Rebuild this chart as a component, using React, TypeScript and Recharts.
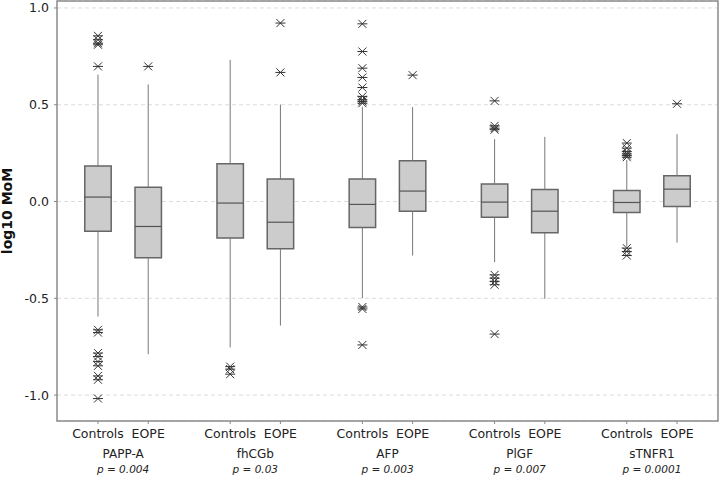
import React from 'react';
import {
  ComposedChart,
  XAxis,
  YAxis,
  CartesianGrid,
  ReferenceArea,
  ReferenceLine,
  Scatter,
  Label,
} from 'recharts';

const markers = ['PAPP-A', 'fhCGb', 'AFP', 'PlGF', 'sTNFR1'];
const pLabels = ['p = 0.004', 'p = 0.03', 'p = 0.003', 'p = 0.007', 'p = 0.0001'];
const groupLabels = ['Controls', 'EOPE'];
const yTicks = [-1, -0.5, 0, 0.5, 1];

// Controls: whisker low, Q1, median, Q3, whisker high
const controlsLow = [-0.594, -0.754, -0.5, -0.313, -0.233];
const controlsQ1 = [-0.153, -0.189, -0.134, -0.081, -0.057];
const controlsMedian = [0.023, -0.008, -0.015, -0.003, -0.005];
const controlsQ3 = [0.183, 0.195, 0.116, 0.09, 0.057];
const controlsHigh = [0.656, 0.732, 0.49, 0.322, 0.215];

// EOPE
const eopeLow = [-0.789, -0.641, -0.279, -0.503, -0.212];
const eopeQ1 = [-0.291, -0.244, -0.05, -0.162, -0.026];
const eopeMedian = [-0.129, -0.107, 0.054, -0.05, 0.064];
const eopeQ3 = [0.074, 0.116, 0.21, 0.062, 0.133];
const eopeHigh = [0.605, 0.501, 0.488, 0.334, 0.348];

const controlsOutliers = [
  [0.856, 0.836, 0.818, 0.81, 0.698, -0.663, -0.677, -0.783, -0.801, -0.827, -0.849, -0.901, -0.921, -1.018],
  [-0.853, -0.866, -0.892],
  [0.918, 0.775, 0.689, 0.641, 0.589, 0.543, 0.526, 0.517, 0.508, -0.545, -0.555, -0.741],
  [0.52, 0.391, 0.379, 0.371, -0.379, -0.396, -0.413, -0.43, -0.685],
  [0.302, 0.276, 0.258, 0.246, 0.238, 0.229, -0.241, -0.258, -0.279],
];
const eopeOutliers = [[0.698], [0.922, 0.667], [0.653], [], [0.505]];

// position of each box inside its marker slot, and box half width (x units)
const OFFSETS = [0.31, 0.69];
const HALF = 0.1;
const Y_DOMAIN: [number, number] = [-1.134, 1.036];
const FONT = '"DejaVu Sans", Verdana, sans-serif';

const boxes = markers.flatMap((m, i) => [
  {
    x: i + OFFSETS[0],
    low: controlsLow[i],
    q1: controlsQ1[i],
    med: controlsMedian[i],
    q3: controlsQ3[i],
    high: controlsHigh[i],
  },
  {
    x: i + OFFSETS[1],
    low: eopeLow[i],
    q1: eopeQ1[i],
    med: eopeMedian[i],
    q3: eopeQ3[i],
    high: eopeHigh[i],
  },
]);

const outliers = markers.flatMap((m, i) => [
  ...controlsOutliers[i].map((y) => ({ x: i + OFFSETS[0], y })),
  ...eopeOutliers[i].map((y) => ({ x: i + OFFSETS[1], y })),
]);

const boxTicks = boxes.map((b) => b.x);
const groupTicks = markers.map((m, i) => i + 0.5);
// invisible anchor points so the marker-name axis has data
const groupAnchors = groupTicks.map((x) => ({ x, y: 0 }));

const Asterisk = (props: any) => {
  const { cx, cy } = props;
  if (cx == null || cy == null) return null;
  return (
    <g stroke="#333" strokeWidth={1}>
      <line x1={cx - 5} y1={cy} x2={cx + 5} y2={cy} />
      <line x1={cx - 4} y1={cy - 4} x2={cx + 4} y2={cy + 4} />
      <line x1={cx - 4} y1={cy + 4} x2={cx + 4} y2={cy - 4} />
    </g>
  );
};

const GroupTick = (props: any) => {
  const { x, y, payload } = props;
  const i = payload.index;
  return (
    <g>
      <text x={x} y={y + 9} textAnchor="middle" fontSize={12} fill="#222" fontFamily={FONT}>
        {markers[i]}
      </text>
      <text x={x} y={y + 24} textAnchor="middle" fontSize={10.5} fontStyle="italic" fill="#222" fontFamily={FONT}>
        {pLabels[i]}
      </text>
    </g>
  );
};

const YLabel = (props: any) => {
  const { viewBox } = props;
  const cy = viewBox.y + viewBox.height / 2;
  return (
    <text
      transform={`translate(${viewBox.x + 12},${cy}) rotate(-90)`}
      textAnchor="middle"
      fontSize={14}
      fontWeight="bold"
      fill="#111"
      fontFamily={FONT}
    >
      log10 MoM
    </text>
  );
};

export default function App() {
  return (
    <div style={{ position: 'absolute', left: 0, top: 0, background: '#fff' }}>
      <ComposedChart
        width={720}
        height={477}
        margin={{ top: 1, right: 2, left: 0, bottom: 0 }}
      >
        <CartesianGrid vertical={false} stroke="#dcdcdc" strokeDasharray="4 3" />
        <XAxis
          dataKey="x"
          type="number"
          domain={[0, 5]}
          ticks={boxTicks}
          interval={0}
          height={20}
          axisLine={false}
          tickSize={3}
          tickMargin={5}
          tickLine={{ stroke: '#888' }}
          tickFormatter={(v, idx) => groupLabels[idx % 2]}
          tick={{ fontSize: 12.5, fill: '#222', fontFamily: FONT }}
        />
        <XAxis
          xAxisId="g"
          dataKey="x"
          type="number"
          domain={[0, 5]}
          ticks={groupTicks}
          interval={0}
          height={36}
          axisLine={false}
          tickLine={false}
          tick={<GroupTick />}
        />
        <YAxis
          dataKey="y"
          type="number"
          domain={Y_DOMAIN}
          ticks={yTicks}
          width={57}
          axisLine={false}
          tickSize={3}
          tickMargin={5}
          tickLine={{ stroke: '#888' }}
          tickFormatter={(v) => Number(v).toFixed(1)}
          tick={{ fontSize: 12.5, fill: '#222', fontFamily: FONT }}
        >
          <Label content={<YLabel />} />
        </YAxis>

        {boxes.map((b, k) => (
          <ReferenceLine
            key={`wl${k}`}
            segment={[{ x: b.x, y: b.low }, { x: b.x, y: b.q1 }]}
            stroke="#777"
            strokeWidth={1}
            ifOverflow="visible"
          />
        ))}
        {boxes.map((b, k) => (
          <ReferenceLine
            key={`wh${k}`}
            segment={[{ x: b.x, y: b.q3 }, { x: b.x, y: b.high }]}
            stroke="#777"
            strokeWidth={1}
            ifOverflow="visible"
          />
        ))}
        {boxes.map((b, k) => (
          <ReferenceArea
            key={`b${k}`}
            x1={b.x - HALF}
            x2={b.x + HALF}
            y1={b.q1}
            y2={b.q3}
            fill="#cccccc"
            fillOpacity={1}
            stroke="#666"
            strokeWidth={1.5}
            ifOverflow="visible"
          />
        ))}
        {boxes.map((b, k) => (
          <ReferenceLine
            key={`m${k}`}
            segment={[{ x: b.x - HALF, y: b.med }, { x: b.x + HALF, y: b.med }]}
            stroke="#555"
            strokeWidth={1.2}
            ifOverflow="visible"
          />
        ))}

        <Scatter data={outliers} shape={<Asterisk />} isAnimationActive={false} />
        <Scatter
          xAxisId="g"
          data={groupAnchors}
          shape={() => null}
          isAnimationActive={false}
        />

        <ReferenceArea
          x1={0}
          x2={5}
          y1={Y_DOMAIN[0]}
          y2={Y_DOMAIN[1]}
          fill="none"
          stroke="#8a8a8a"
          strokeWidth={1.5}
          ifOverflow="visible"
        />
      </ComposedChart>
    </div>
  );
}
